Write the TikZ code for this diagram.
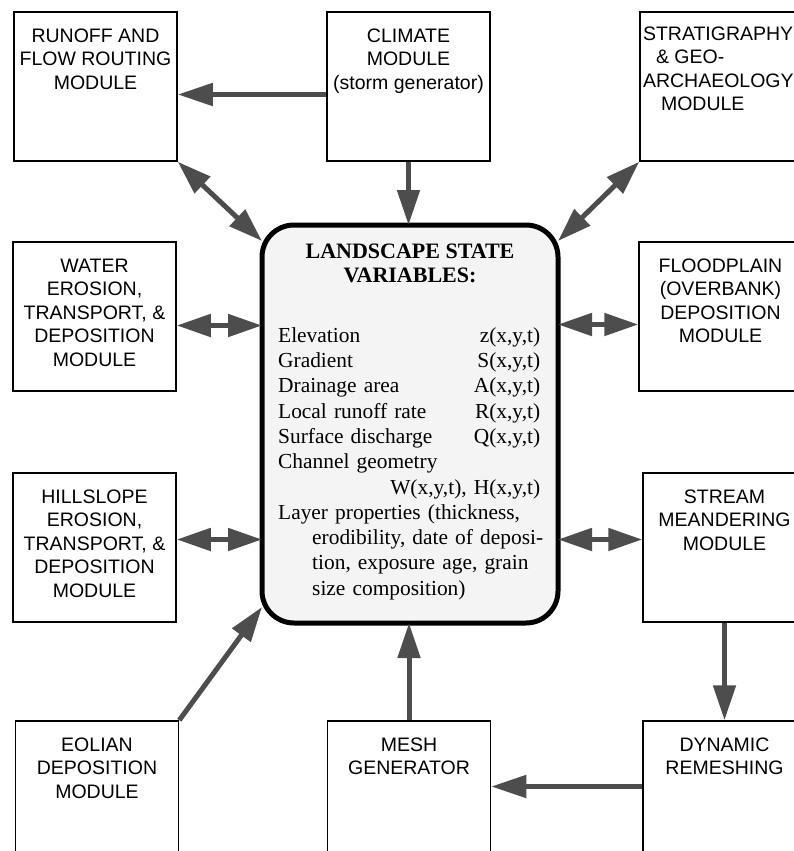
\documentclass[tikz,border=0pt]{standalone}
\usepackage{fontspec}
\setmainfont{Liberation Serif}
\setsansfont{Liberation Sans}
\usetikzlibrary{arrows.meta}
\definecolor{arrgray}{HTML}{4D4D4D}
\definecolor{statefill}{HTML}{F4F4F4}
\newcommand{\modtext}[1]{\parbox[c][149pt][t]{163pt}{\centering\rule{0pt}{30pt}#1}}

\begin{document}
\begin{tikzpicture}[x=1pt,y=-1pt]

\tikzset{module/.style = {shape=rectangle,draw,line width=1.5pt,inner sep=0pt,minimum width=163pt,minimum height=149pt,font=\sffamily\fontsize{19.5}{23.5}\selectfont}}
\tikzset{varsbox/.style = {shape=rectangle,draw,line width=5pt,outer sep=0pt,rounded corners=32pt,fill=statefill,minimum width=296pt,minimum height=398pt}}
\tikzset{flow/.style = {draw=arrgray,line width=5pt,-{Triangle[length=35pt,width=22pt]}}}
\tikzset{twoway/.style = {flow,{Triangle[length=34pt,width=22pt]}-{Triangle[length=34pt,width=22pt]}}}

\useasboundingbox (0,0) rectangle (793,851);

%modules
\node[module] (runoff) at (95.5,86.5) {\modtext{RUNOFF AND\\FLOW ROUTING\\MODULE}};
\node[module] (climate) at (408.5,86.5) {\modtext{CLIMATE\\MODULE\\(storm generator)}};
\node[module] (strat) at (721.5,86.5) {\parbox[c][149pt][t]{163pt}{\raggedright\rule{0pt}{28pt}\hspace*{3pt}STRATIGRAPHY\\\hspace*{16pt}\& GEO-\\\hspace*{3pt}ARCHAEOLOGY\\\hspace*{21pt}MODULE}};
\node[module] (water) at (94.5,316.5) {\modtext{WATER\\EROSION,\\TRANSPORT, \&\\DEPOSITION\\MODULE}};
\node[module] (flood) at (720.5,316.5) {\modtext{FLOODPLAIN\\(OVERBANK)\\DEPOSITION\\MODULE}};
\node[module] (hill) at (94.5,547.5) {\modtext{HILLSLOPE\\EROSION,\\TRANSPORT, \&\\DEPOSITION\\MODULE}};
\node[module] (stream) at (724.5,547.5) {\modtext{STREAM\\MEANDERING\\MODULE}};
\node[module] (eolian) at (97,795.5) {\modtext{EOLIAN\\DEPOSITION\\MODULE}};
\node[module] (mesh) at (409,795.5) {\modtext{MESH\\GENERATOR}};
\node[module] (dynamic) at (724.5,795.5) {\modtext{DYNAMIC\\REMESHING}};

%state variables
\node[varsbox] (state) at (410,424) {};
\node[anchor=north,inner sep=0pt,align=center,font=\bfseries\fontsize{22}{24}\selectfont] (title) at (410,225) {\rule{0pt}{33pt}LANDSCAPE STATE\\VARIABLES:};
\node[anchor=north west,inner sep=0pt,text width=262pt,align=left,font=\fontsize{21.4}{25.3}\selectfont] (vars) at (278,322) {\rule{0pt}{20pt}Elevation\hfill z(x,y,t)\\
Gradient\hfill S(x,y,t)\\
Drainage area\hfill A(x,y,t)\\
Local runoff rate\hfill R(x,y,t)\\
Surface discharge\hfill Q(x,y,t)\\
Channel geometry\\
\leavevmode\hfill W(x,y,t), H(x,y,t)\\
Layer properties (thickness,\\
\leavevmode\hspace*{34pt}\mbox{erodibility, date of deposi-}\\
\leavevmode\hspace*{34pt}\mbox{tion, exposure age, grain}\\
\leavevmode\hspace*{34pt}\mbox{size composition)}};

%edges
\coordinate (cw) at ([yshift=-8pt]climate.west);
\coordinate (we) at ([yshift=-9pt]water.east);
\coordinate (fw) at ([yshift=-8pt]flood.west);
\coordinate (he) at ([yshift=8pt]hill.east);
\coordinate (sw) at ([yshift=8pt]stream.west);
\coordinate (dw) at ([yshift=9pt]dynamic.west);
\draw[flow] (cw) -- (runoff.east |- cw);
\draw[flow] (climate.south) -- (climate.south |- state.north);
\draw[twoway] (runoff.south east) -- ([yshift=-16pt]state.north west);
\draw[twoway] (strat.south west) -- ([yshift=-16pt]state.north east);
\draw[twoway] (we) -- (state.west |- we);
\draw[twoway] (fw) -- (state.east |- fw);
\draw[twoway] (he) -- (state.west |- he);
\draw[twoway] (sw) -- (state.east |- sw);
\draw[flow] (eolian.north east) -- ([yshift=16pt]state.south west);
\draw[flow] (mesh.north) -- (mesh.north |- state.south);
\draw[flow] (stream.south) -- (dynamic.north);
\draw[flow] (dw) -- (mesh.east |- dw);

\end{tikzpicture}
\end{document}
